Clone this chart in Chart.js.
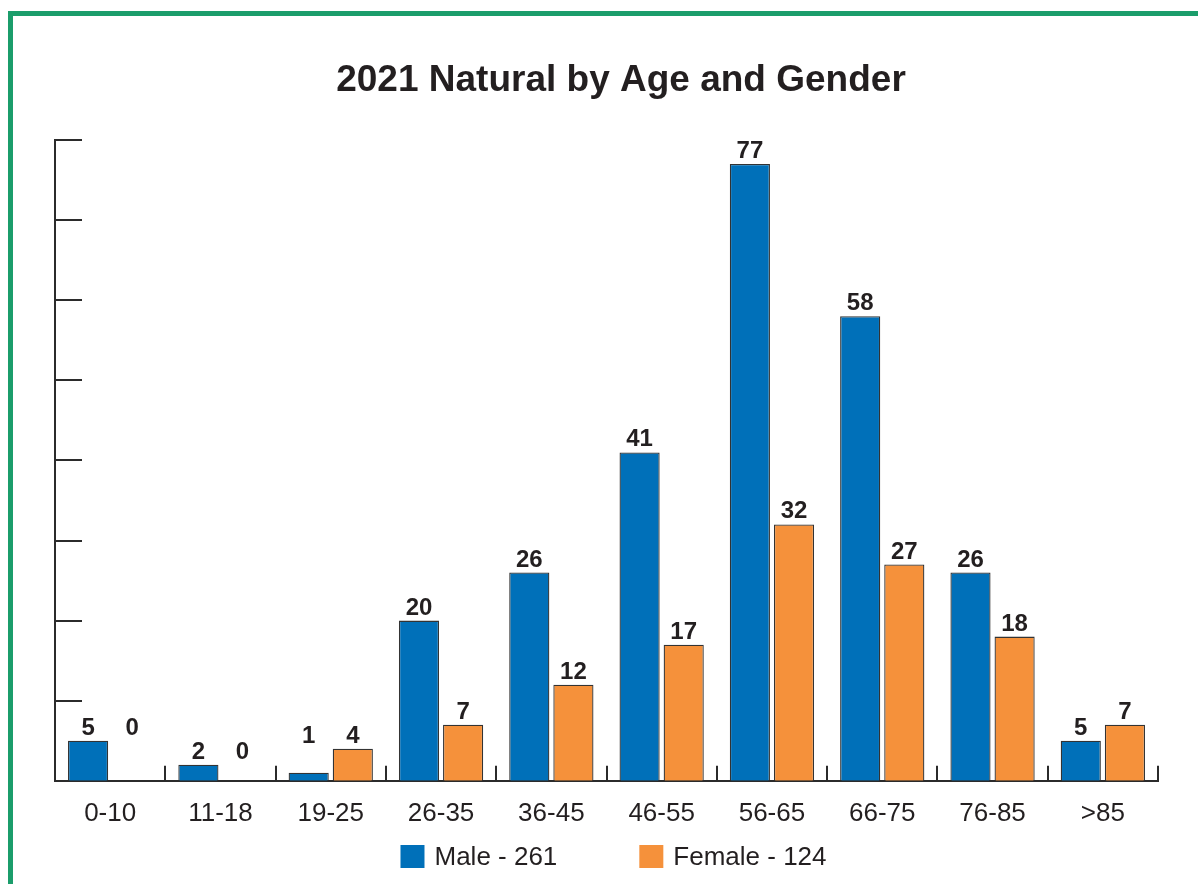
<!DOCTYPE html>
<html>
<head>
<meta charset="utf-8">
<script src="https://cdn.jsdelivr.net/npm/chart.js@4"></script>
<style>
  html, body { margin: 0; padding: 0; background: #fff; }
  #wrap { position: relative; width: 1198px; height: 884px; overflow: hidden; }
  #frame { position: absolute; left: 8px; top: 11px; right: -10px; bottom: -10px;
           border-top: 5px solid #1b9d6b; border-left: 5px solid #1b9d6b; }
  canvas { position: absolute; left: 0; top: 0; }
</style>
</head>
<body>
<div id="wrap">
  <div id="frame"></div>
  <canvas id="chart" width="1198" height="884"></canvas>
</div>
<script>
const chartTitle = '2021 Natural by Age and Gender';
const categories = ['0-10', '11-18', '19-25', '26-35', '36-45', '46-55', '56-65', '66-75', '76-85', '>85'];
const maleValues = [5, 2, 1, 20, 26, 41, 77, 58, 26, 5];
const femaleValues = [0, 0, 4, 7, 12, 17, 32, 27, 18, 7];
const seriesNames = ['Male - 261', 'Female - 124'];
const seriesColors = ['#0070b9', '#f5913b'];
const yMax = 80;
const yStep = 10;

const textColor = '#231f20';
const axisColor = '#2b2b2b';
const fontFamily = '"Liberation Sans", Arial, Helvetica, sans-serif';

// title sits a little right of the plot centre in the original
const topTitle = {
  id: 'topTitle',
  afterDraw(chart) {
    const ctx = chart.ctx;
    ctx.save();
    ctx.font = 'bold 37px ' + fontFamily;
    ctx.fillStyle = textColor;
    ctx.textAlign = 'center';
    ctx.textBaseline = 'middle';
    ctx.fillText(chartTitle, 621, 81);
    ctx.restore();
  }
};

// tick marks drawn inside the plot, like the original
const inwardTicks = {
  id: 'inwardTicks',
  afterDatasetsDraw(chart) {
    const { ctx, chartArea, scales: { x, y } } = chart;
    ctx.save();
    ctx.strokeStyle = axisColor;
    ctx.lineWidth = 2;
    ctx.beginPath();
    y.ticks.forEach(t => {
      if (t.value === 0) return;
      const py = Math.round(y.getPixelForValue(t.value));
      ctx.moveTo(chartArea.left, py);
      ctx.lineTo(chartArea.left + 27, py);
    });
    for (let i = 1; i <= categories.length; i++) {
      const px = Math.round(x.getPixelForValue(i - 0.5));
      ctx.moveTo(px, chartArea.bottom);
      ctx.lineTo(px, chartArea.bottom - 15);
    }
    ctx.stroke();
    ctx.restore();
  }
};

// numbers over the bars; tiny values sit level with their neighbour
const valueLabels = {
  id: 'valueLabels',
  afterDatasetsDraw(chart) {
    const ctx = chart.ctx;
    const metas = chart.data.datasets.map((d, i) => chart.getDatasetMeta(i));
    ctx.save();
    ctx.font = 'bold 24px ' + fontFamily;
    ctx.fillStyle = textColor;
    ctx.textAlign = 'center';
    ctx.textBaseline = 'alphabetic';
    metas.forEach((meta, di) => {
      meta.data.forEach((bar, i) => {
        const v = chart.data.datasets[di].data[i];
        let top = bar.y;
        if (v <= 1) top = Math.min(...metas.map(m => m.data[i].y));
        ctx.fillText(String(v), bar.x, top - 6);
      });
    });
    ctx.restore();
  }
};

const bottomLegend = {
  id: 'bottomLegend',
  afterDraw(chart) {
    const { ctx, chartArea } = chart;
    const box = 24, gap = 10, itemGap = 82, cy = 857;
    ctx.save();
    ctx.font = '26px ' + fontFamily;
    const widths = seriesNames.map(n => ctx.measureText(n).width);
    const total = widths.reduce((s, w) => s + box + gap + w, 0) + itemGap * (seriesNames.length - 1);
    let x = (chartArea.left + chartArea.right) / 2 + 7 - total / 2;
    ctx.textBaseline = 'middle';
    ctx.textAlign = 'left';
    seriesNames.forEach((n, i) => {
      ctx.fillStyle = seriesColors[i];
      ctx.fillRect(x, cy - box / 2, box, box - 1);
      ctx.fillStyle = textColor;
      ctx.fillText(n, x + box + gap, cy + 1);
      x += box + gap + widths[i] + itemGap;
    });
    ctx.restore();
  }
};

function makeDataset(label, data, color) {
  return {
    label,
    data,
    backgroundColor: color,
    borderColor: '#333333',
    borderWidth: 1.3,
    categoryPercentage: 0.8,
    barPercentage: 0.91
  };
}

new Chart(document.querySelector('#chart'), {
  type: 'bar',
  data: {
    labels: categories,
    datasets: [
      makeDataset(seriesNames[0], maleValues, seriesColors[0]),
      makeDataset(seriesNames[1], femaleValues, seriesColors[1])
    ]
  },
  options: {
    responsive: false,
    animation: false,
    layout: { padding: { left: 55, right: 40, top: 140, bottom: 38 } },
    plugins: {
      legend: { display: false },
      tooltip: { enabled: false },
      title: { display: false }
    },
    scales: {
      x: {
        grid: { display: false, drawTicks: false },
        border: { color: axisColor, width: 2 },
        ticks: { color: textColor, font: { family: fontFamily, size: 26 }, padding: 17 }
      },
      y: {
        min: 0,
        max: yMax,
        ticks: { display: false, stepSize: yStep },
        grid: { display: false, drawTicks: false },
        border: { color: axisColor, width: 2 }
      }
    }
  },
  plugins: [inwardTicks, valueLabels, topTitle, bottomLegend]
});
</script>
</body>
</html>
